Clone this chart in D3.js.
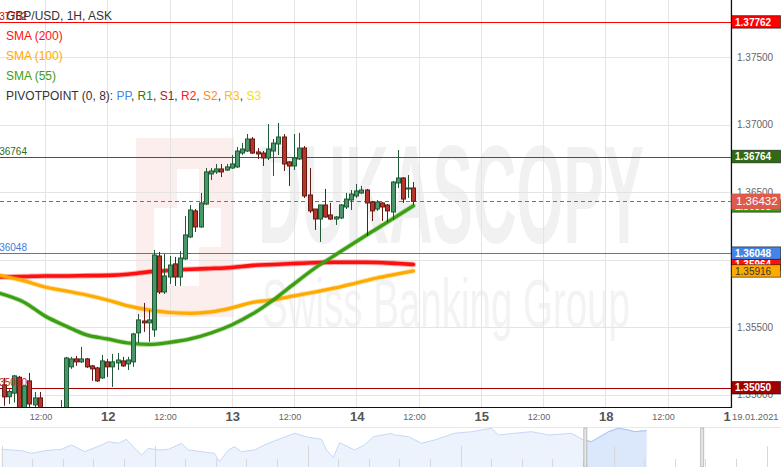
<!DOCTYPE html>
<html><head><meta charset="utf-8">
<script src="https://cdn.jsdelivr.net/npm/d3@7"></script>
<style>body{margin:0;background:#fff;} svg{display:block;font-family:"Liberation Sans",Arial,sans-serif;}</style>
</head><body><svg id="c" width="781" height="467"></svg>
<script>
// ---------- DATA ----------
const symbolTitle = "GBP/USD, 1H, ASK";
const firstHour = 4; // trading hours since 11 Jan 2021 00:00 (weekend removed)
const opens  = [1.35071,1.34984,1.35010,1.35128,1.34886,1.35101,1.34923,1.34975,1.34870,1.34820,1.34840,1.34860,1.34890,1.35205,1.35264,1.35242,1.35264,1.35212,1.35197,1.35123,1.35242,1.35205,1.35234,1.35249,1.35227,1.35242,1.35457,1.35545,1.35531,1.35479,1.36027,1.35760,1.35871,1.35968,1.35871,1.36005,1.36168,1.36361,1.36242,1.36412,1.36635,1.36650,1.36672,1.36664,1.36679,1.36687,1.36790,1.36805,1.36894,1.36798,1.36790,1.36753,1.36805,1.36857,1.36909,1.36724,1.36694,1.36746,1.36827,1.36479,1.36375,1.36301,1.36405,1.36331,1.36301,1.36309,1.36390,1.36442,1.36472,1.36494,1.36516,1.36427,1.36375,1.36420,1.36405,1.36353,1.36568,1.36605,1.36524,1.36531];
const highs  = [1.35123,1.35039,1.35145,1.35138,1.35071,1.35160,1.35019,1.35019,1.34890,1.34860,1.34880,1.34960,1.35279,1.35279,1.35286,1.35353,1.35271,1.35219,1.35205,1.35293,1.35264,1.35301,1.35308,1.35279,1.35279,1.35457,1.35597,1.35679,1.35627,1.36072,1.36057,1.36042,1.36027,1.36020,1.36064,1.36323,1.36405,1.36375,1.36494,1.36679,1.36679,1.36709,1.36709,1.36709,1.36775,1.36835,1.36864,1.36931,1.36909,1.36827,1.36805,1.37005,1.36894,1.37013,1.36931,1.36731,1.36931,1.36939,1.36842,1.36679,1.36375,1.36405,1.36524,1.36420,1.36323,1.36412,1.36494,1.36516,1.36561,1.36546,1.36524,1.36435,1.36442,1.36427,1.36412,1.36583,1.36812,1.36612,1.36627,1.36575];
const lows   = [1.34916,1.34930,1.34940,1.34849,1.34864,1.34901,1.34901,1.34864,1.34800,1.34760,1.34790,1.34830,1.34860,1.35190,1.35212,1.35234,1.35197,1.35101,1.35093,1.35116,1.35130,1.35056,1.35182,1.35205,1.35182,1.35205,1.35382,1.35464,1.35390,1.35427,1.35745,1.35745,1.35820,1.35805,1.35805,1.35997,1.36160,1.36205,1.36235,1.36405,1.36590,1.36635,1.36612,1.36657,1.36672,1.36679,1.36775,1.36798,1.36783,1.36746,1.36694,1.36738,1.36620,1.36775,1.36657,1.36546,1.36664,1.36738,1.36457,1.36346,1.36220,1.36131,1.36309,1.36294,1.36257,1.36301,1.36375,1.36368,1.36457,1.36486,1.36175,1.36286,1.36361,1.36286,1.36279,1.36294,1.36531,1.36420,1.36457,1.36405];
const closes = [1.34982,1.35022,1.35138,1.34886,1.35064,1.34930,1.34975,1.34886,1.34820,1.34840,1.34860,1.34890,1.35271,1.35264,1.35242,1.35264,1.35205,1.35190,1.35101,1.35249,1.35205,1.35242,1.35256,1.35212,1.35256,1.35449,1.35553,1.35531,1.35553,1.36034,1.35760,1.35879,1.35960,1.35871,1.36012,1.36183,1.36368,1.36242,1.36420,1.36650,1.36657,1.36672,1.36650,1.36687,1.36709,1.36805,1.36820,1.36894,1.36790,1.36783,1.36753,1.36820,1.36864,1.36909,1.36709,1.36694,1.36753,1.36827,1.36472,1.36361,1.36301,1.36405,1.36316,1.36301,1.36316,1.36405,1.36449,1.36486,1.36509,1.36516,1.36420,1.36361,1.36427,1.36390,1.36361,1.36575,1.36605,1.36449,1.36531,1.36432];

const smaHours = [3,8,12,16,20,24,28,32,36,40,44,48,52,56,60,64,68,72,76,80,83];
const sma200 = [1.35871,1.35875,1.35879,1.35879,1.35881,1.35883,1.35891,1.35909,1.35920,1.35928,1.35934,1.35942,1.35957,1.35964,1.35971,1.35977,1.35980,1.35980,1.35979,1.35971,1.35964];
const sma100 = [1.35886,1.35842,1.35797,1.35768,1.35738,1.35701,1.35657,1.35627,1.35608,1.35602,1.35612,1.35642,1.35683,1.35701,1.35731,1.35760,1.35790,1.35827,1.35864,1.35894,1.35916];
const sma55  = [1.35753,1.35683,1.35582,1.35508,1.35442,1.35412,1.35382,1.35371,1.35386,1.35412,1.35456,1.35516,1.35597,1.35701,1.35820,1.35936,1.36035,1.36134,1.36230,1.36326,1.36398];
const smaNames = ["SMA (200)","SMA (100)","SMA (55)"];

const pivotNames  = ["PP","R1","S1","R2","S2","R3","S3"];
const pivotShown  = ["R2","R1","PP","S1"];
const pivotValues = [1.37762,1.36764,1.36048,1.35050];
const lastPrice = 1.36432;

const yTicks = [1.350,1.355,1.360,1.365,1.370,1.375];
const xTickHours  = [12,24,36,48,60,72,84,96,108,120,132,144];
const xTickLabels = ["12:00","12","12:00","13","12:00","14","12:00","15","12:00","18","12:00","19"];
const dateLabel = "19.01.2021";

// navigator (trading days from left edge, relative level)
const navDays   = [0,0.65,0.98,1.42,1.96,2.29,2.72,3.27,3.49,3.82,4.08,4.25,4.58,4.8,5.13,5.46,5.88,6.11,6.54,6.96,7.12,7.42,7.61,7.84,8.27,8.59,9.05,9.58,10.03,10.46,10.62,10.85,11.05,11.54,11.86,12.16,12.75,12.84,13.3,13.73,14.15,14.8,15.36,16.01,16.24,16.76,17.32,17.88,18.63,19.02,19.28,19.84,20.16,20.49,20.69,21.08];
const navLevels = [17.7,16.3,13.7,16.3,17.7,22,15.3,22,25.3,23.7,27.7,22,12,18.7,17,17.7,23.7,17,15.3,13.7,5.3,17,20.3,15.3,17,22,27.7,33.7,29.7,27.7,17,9.7,24.3,17,22,30.3,33.7,32,30.3,23.7,27,33.7,35.3,38.7,32,33.7,35.3,32,33.7,27,25.3,35.3,38.7,37,35.3,36.3];
const navWindow = [19.08, 22.9];

// ---------- STYLE ----------
const C = {
  grid:"#e4e4e4", text:"#333", tick:"#666",
  up:"#48966a", upStroke:"#1f5a34", down:"#b5372b", downStroke:"#651a13",
  sma:["#ff1010","#ffaa00","#3c9e12"],
  pivot:{PP:"#3c7dd9",R1:"#2f6b1a",S1:"#a80000",R2:"#ff0000",S2:"#ff8c1a",R3:"#ffc000",S3:"#ffe600"},
  pivotText:{PP:"#3c7dd9",R1:"#2f6b1a",S1:"#c02020",R2:"#e00000"},
  legendPivot:{PP:"#4a86e8",R1:"#2f7a1a",S1:"#b01818",R2:"#ff2020",S2:"#ff8a20",R3:"#ffbf00",S3:"#f5e000"},
  last:"#e8453c", lastBox:"#dd5a4c"
};
const W=781, H=467, plotR=731, plotB=407;

const svg = d3.select("#c");
const x = d3.scaleLinear().domain([0,144]).range([-17.25, 729.75]);
const y = d3.scaleLinear().domain([1.349, 1.38]).range([408, -10.2]);

svg.append("defs").append("clipPath").attr("id","plot")
  .append("rect").attr("x",0).attr("y",0).attr("width",plotR).attr("height",plotB);

const plot = svg.append("g").attr("clip-path","url(#plot)");

// watermark
const wm = plot.append("g");
wm.append("text").attr("x",258).attr("y",243).attr("textLength",386).attr("lengthAdjust","spacingAndGlyphs")
  .attr("font-size",140).attr("font-weight","bold").attr("fill","#f1f1f1").text("DUKASCOPY");
wm.append("text").attr("x",262).attr("y",327).attr("textLength",368).attr("lengthAdjust","spacingAndGlyphs")
  .attr("font-size",68).attr("fill","#f3f3f3").text("Swiss Banking Group");
wm.append("rect").attr("x",136).attr("y",138).attr("width",98).attr("height",179).attr("fill","#fdeeee");
[[177,169,22,39],[154,208,67,39],[154,247,45,39]].forEach(r=>
  wm.append("rect").attr("x",r[0]).attr("y",r[1]).attr("width",r[2]).attr("height",r[3]).attr("fill","#fff"));

// grid
plot.append("g").selectAll("line").data(yTicks).join("line")
  .attr("x1",0).attr("x2",plotR).attr("y1",d=>Math.round(y(d))+0.5).attr("y2",d=>Math.round(y(d))+0.5)
  .attr("stroke",C.grid);
plot.append("g").selectAll("line").data(xTickHours).join("line")
  .attr("x1",d=>Math.round(x(d))+0.5).attr("x2",d=>Math.round(x(d))+0.5).attr("y1",0).attr("y2",plotB)
  .attr("stroke",C.grid);

// pivot lines
plot.append("g").selectAll("line").data(pivotValues).join("line")
  .attr("x1",0).attr("x2",plotR).attr("y1",d=>Math.round(y(d))+0.5).attr("y2",d=>Math.round(y(d))+0.5)
  .attr("stroke",(d,i)=>C.pivot[pivotShown[i]]).attr("stroke-width",1);
plot.append("line").attr("x1",0).attr("x2",plotR).attr("y1",Math.round(y(lastPrice))+0.5).attr("y2",Math.round(y(lastPrice))+0.5)
  .attr("stroke",C.last).attr("stroke-dasharray","4,3");
svg.append("g").selectAll("text").data(pivotValues).join("text")
  .attr("x",27).attr("y",d=>y(d)-2).attr("text-anchor","end").attr("font-size",10)
  .attr("fill",(d,i)=>C.pivotText[pivotShown[i]]).text(d=>d.toFixed(5));

// SMA lines
const line = d3.line().x((d,i)=>x(smaHours[i])).y(d=>y(d)).curve(d3.curveMonotoneX);
[sma200,sma100,sma55].forEach((s,k)=>{
  plot.append("path").attr("d",line(s)).attr("fill","none").attr("stroke",C.sma[k])
    .attr("stroke-opacity",0.35).attr("stroke-width",k===0?5.5:5).attr("stroke-linecap","round");
  plot.append("path").attr("d",line(s)).attr("fill","none").attr("stroke",C.sma[k])
    .attr("stroke-width",k===0?3.6:3.2).attr("stroke-linecap","round");
});

// candles
const cd = opens.map((o,i)=>({h:firstHour+i,o,hi:highs[i],lo:lows[i],c:closes[i]}));
const cg = plot.append("g").selectAll("g").data(cd).join("g");
cg.append("line").attr("x1",d=>Math.round(x(d.h))+0.5).attr("x2",d=>Math.round(x(d.h))+0.5)
  .attr("y1",d=>y(d.hi)).attr("y2",d=>y(d.lo))
  .attr("stroke",d=>d.c>=d.o?C.upStroke:C.downStroke);
cg.append("rect").attr("x",d=>Math.round(x(d.h))-1.5).attr("width",4)
  .attr("y",d=>y(Math.max(d.o,d.c))).attr("height",d=>Math.max(1,Math.abs(y(d.o)-y(d.c))))
  .attr("fill",d=>d.c>=d.o?C.up:C.down).attr("stroke",d=>d.c>=d.o?C.upStroke:C.downStroke).attr("stroke-width",1);

// legend
const lg = svg.append("g").attr("font-size",12);
lg.append("text").attr("x",6).attr("y",19.5).attr("fill",C.text).text(symbolTitle);
smaNames.forEach((n,i)=>lg.append("text").attr("x",6).attr("y",39.5+20*i).attr("fill",C.sma[i]).text(n));
const pt = lg.append("text").attr("x",6).attr("y",99.5).attr("fill",C.text);
pt.append("tspan").text("PIVOTPOINT (0, 8): ");
pivotNames.forEach((n,i)=>{
  pt.append("tspan").attr("fill",C.legendPivot[n]).text(n);
  if(i<pivotNames.length-1) pt.append("tspan").attr("fill",C.text).text(", ");
});

// axes frame
svg.append("line").attr("x1",plotR+0.5).attr("x2",plotR+0.5).attr("y1",0).attr("y2",plotB+1).attr("stroke","#111").attr("stroke-width",1.2);
svg.append("line").attr("x1",0).attr("x2",plotR+1).attr("y1",plotB+0.5).attr("y2",plotB+0.5).attr("stroke","#111").attr("stroke-width",1.2);

// right tick labels
svg.append("g").selectAll("text").data(yTicks).join("text")
  .attr("x",737).attr("y",d=>y(d)+3.5).attr("font-size",10).attr("fill",C.tick).text(d=>d.toFixed(5));

// right value boxes
function box(v, fill, txtFill, opts={}){
  const h = opts.h||12.5, fs = opts.fs||10;
  const g = svg.append("g");
  g.append("rect").attr("x",731.5).attr("y",y(v)-h/2).attr("width",49).attr("height",h)
    .attr("fill",fill).attr("stroke",opts.stroke||"rgba(0,0,0,0.55)").attr("stroke-width",1);
  g.append("text").attr("x",opts.tx||735).attr("y",y(v)+fs*0.36).attr("font-size",fs)
    .attr("font-weight",opts.bold===false?"normal":"bold").attr("fill",txtFill).text(v.toFixed(5));
}
box(pivotValues[0], C.pivot.R2, "#fff");
box(pivotValues[1], "#2f6b12", "#fff");
box(sma55[sma55.length-1], C.sma[2], "#fff");
box(lastPrice, C.lastBox, "#fff", {h:15.5, fs:11.5, bold:false, stroke:"none", tx:736});
box(sma200[sma200.length-1], C.sma[0], "#fff");
box(pivotValues[2], "#4285e6", "#fff");
box(sma100[sma100.length-1], C.sma[1], "#333", {bold:false});
box(pivotValues[3], "#a00000", "#fff");

// bottom labels
const bx = svg.append("g");
xTickHours.forEach((h,i)=>{
  const major = xTickLabels[i].indexOf(":")<0;
  bx.append("text").attr("x",x(h)+(major?1:-4)).attr("y",major?421:419.5).attr("text-anchor","middle")
    .attr("font-size",major?13:9).attr("font-weight",major?"bold":"normal").attr("fill",major?"#555":C.tick)
    .text(xTickLabels[i]);
});
bx.append("rect").attr("x",731).attr("y",409).attr("width",50).attr("height",16).attr("fill","#fff");
bx.append("text").attr("x",732).attr("y",419.5).attr("font-size",9.3).attr("fill",C.tick).text(dateLabel);

// navigator
const nx = d3.scaleLinear().domain([0,25]).range([1.5,766.5]);
const ny = d3.scaleLinear().domain([0,40]).range([467,427]);
const nav = svg.append("g");
nav.append("line").attr("x1",0).attr("x2",W).attr("y1",427.5).attr("y2",427.5).attr("stroke","#e8e8e8");
const nd = navDays.map((t,i)=>[t,navLevels[i]]);
const area = d3.area().x(d=>nx(d[0])).y0(467).y1(d=>ny(d[1]));
const nline = d3.line().x(d=>nx(d[0])).y(d=>ny(d[1]));
svg.select("defs").append("clipPath").attr("id","sel").append("rect")
  .attr("x",nx(navWindow[0])).attr("y",420).attr("width",nx(navWindow[1])-nx(navWindow[0])).attr("height",50);
nav.append("path").attr("d",area(nd)).attr("fill","#edf3fd");
nav.append("path").attr("d",nline(nd)).attr("fill","none").attr("stroke","#c5d8f7");
nav.append("path").attr("d",area(nd)).attr("fill","#dbe7fb").attr("clip-path","url(#sel)");
nav.append("path").attr("d",nline(nd)).attr("fill","none").attr("stroke","#a6c4f4").attr("clip-path","url(#sel)");
nav.append("g").selectAll("line").data(d3.range(0,26)).join("line")
  .attr("x1",d=>Math.round(nx(d))+0.5).attr("x2",d=>Math.round(nx(d))+0.5)
  .attr("y1",d=>d%5===0?446:459).attr("y2",467).attr("stroke","#d8d8d8");
navWindow.forEach(t=>{
  nav.append("rect").attr("x",nx(t)-1.5).attr("y",428).attr("width",3).attr("height",39)
    .attr("fill","#e6e6e6").attr("stroke","#b0b0b0").attr("stroke-width",0.8);
});
</script></body></html>
